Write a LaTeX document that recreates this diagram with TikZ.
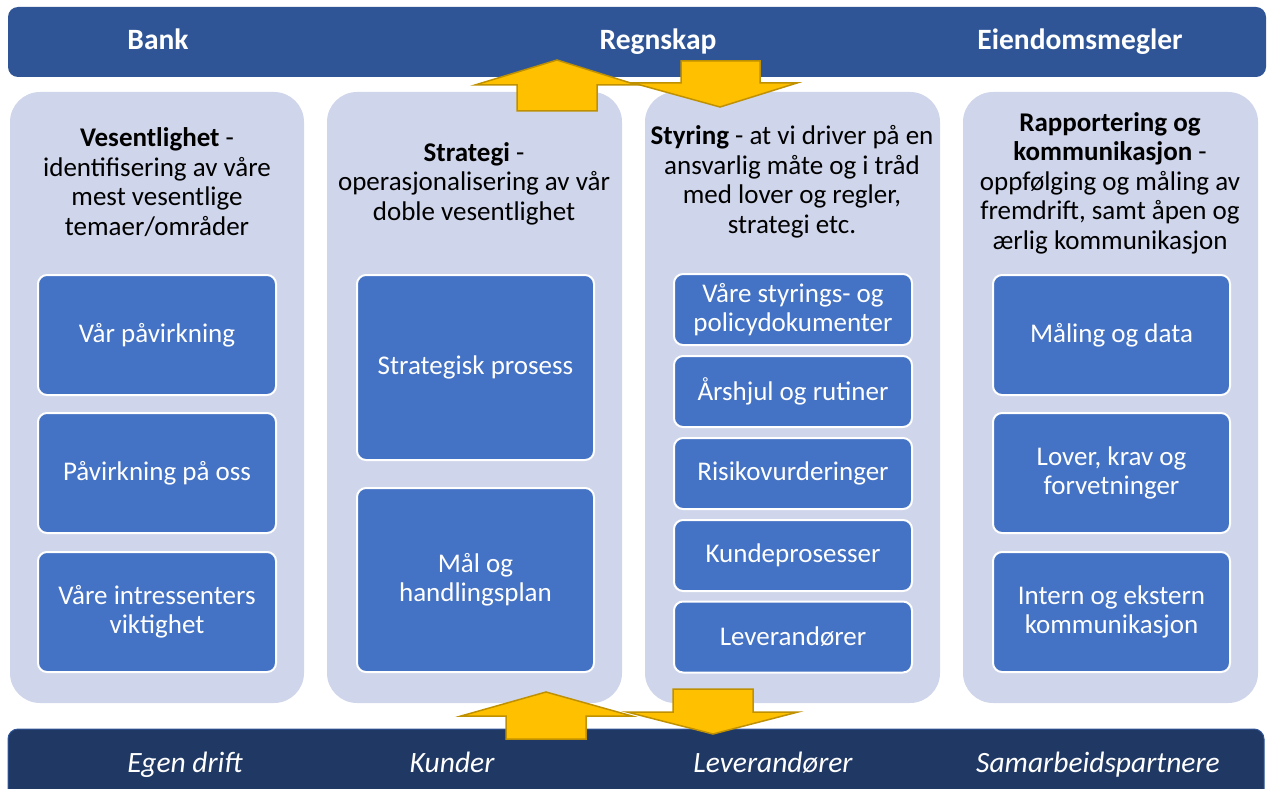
\documentclass[tikz,border=0pt]{standalone}
\usepackage{fontspec}
\setmainfont{Carlito}
\definecolor{topblue}{HTML}{2F5597}
\definecolor{navy}{HTML}{203864}
\definecolor{colfill}{HTML}{CFD5EA}
\definecolor{boxblue}{HTML}{4472C4}
\definecolor{arrfill}{HTML}{FFC000}
\definecolor{arrline}{HTML}{BF9000}
\tikzset{
  colbox/.style={fill=colfill, draw=none, rounded corners=30pt},
  ibox/.style={fill=boxblue, draw=white, line width=2pt, rounded corners=9pt, text=white, align=center,
    font=\fontsize{27}{29.3}\selectfont, inner sep=0pt},
  headtxt/.style={text=black, align=center, font=\fontsize{27}{29.5}\selectfont, inner sep=0pt},
  bartxt/.style={text=white, anchor=base, font=\fontsize{29.5}{32}\selectfont\bfseries, inner sep=0pt},
  bottxt/.style={text=white, anchor=base, font=\fontsize{29.5}{32}\selectfont\itshape, inner sep=0pt},
  yarrow/.style={fill=arrfill, draw=arrline, line width=1.5pt, line join=miter},
}
\begin{document}
\begin{tikzpicture}[x=1pt,y=-1pt]
\useasboundingbox (0,0) rectangle (1268,789);
% top bar
\fill[topblue, rounded corners=10pt] (8,7) rectangle (1266,77);
\node[bartxt] (tb1) at (158,50) {Bank};
\node[bartxt] (tb2) at (658,50) {Regnskap};
\node[bartxt] (tb3) at (1080,50) {Eiendomsmegler};
% bottom bar
\fill[navy, draw=topblue, line width=1pt, rounded corners=10pt] (8,729) rectangle (1264,810);
\node[bottxt] (bb1) at (185,772) {Egen drift};
\node[bottxt] (bb2) at (452,772) {Kunder};
\node[bottxt] (bb3) at (773,772) {Leverandører};
\node[bottxt] (bb4) at (1098,772) {Samarbeidspartnere};
% columns
\fill[colbox] (10,92) rectangle (304,703);
\fill[colbox] (327,92) rectangle (622,703);
\fill[colbox] (645,92) rectangle (940,703);
\fill[colbox] (963,92) rectangle (1258,703);
% column headers
\node[headtxt] (h1) at (157,182) {\textbf{Vesentlighet} -\\identifisering av våre\\mest vesentlige\\temaer/områder};
\node[headtxt] (h2) at (474,183.5) {\textbf{Strategi} -\\operasjonalisering av vår\\doble vesentlighet};
\node[headtxt] (h3) at (792,182) {\textbf{Styring} - at vi driver på en\\ansvarlig måte og i tråd\\med lover og regler,\\strategi etc.};
\node[headtxt] (h4) at (1110,183) {\textbf{Rapportering og}\\\textbf{kommunikasjon} -\\oppfølging og måling av\\fremdrift, samt åpen og\\ærlig kommunikasjon};
% column 1
\node[ibox, minimum width=238pt, minimum height=120pt] (a1) at (157,335) {Vår påvirkning};
\node[ibox, minimum width=238pt, minimum height=120pt] (a2) at (157,473) {Påvirkning på oss};
\node[ibox, minimum width=238pt, minimum height=120pt] (a3) at (157,612) {Våre intressenters\\viktighet};
% column 2
\node[ibox, minimum width=237pt, minimum height=185pt] (s1) at (475.5,367.5) {Strategisk prosess};
\node[ibox, minimum width=237pt, minimum height=184pt] (s2) at (475.5,580) {Mål og\\handlingsplan};
% column 3
\node[ibox, minimum width=238pt, minimum height=71pt] (g1) at (793,309.5) {Våre styrings- og\\policydokumenter};
\node[ibox, minimum width=238pt, minimum height=71pt] (g2) at (793,391.5) {Årshjul og rutiner};
\node[ibox, minimum width=238pt, minimum height=71pt] (g3) at (793,473.5) {Risikovurderinger};
\node[ibox, minimum width=238pt, minimum height=71pt] (g4) at (793,555.5) {Kundeprosesser};
\node[ibox, minimum width=238pt, minimum height=71pt] (g5) at (793,637) {Leverandører};
% column 4
\node[ibox, minimum width=237pt, minimum height=120pt] (r1) at (1111.5,335) {Måling og data};
\node[ibox, minimum width=237pt, minimum height=120pt] (r2) at (1111.5,473) {Lover, krav og\\forvetninger};
\node[ibox, minimum width=237pt, minimum height=120pt] (r3) at (1111.5,612) {Intern og ekstern\\kommunikasjon};
% yellow arrows top
\draw[yarrow] (557,60) -- (637,85) -- (597,85) -- (597,111) -- (517,111) -- (517,85) -- (475,85) -- cycle;
\draw[yarrow] (681,61) -- (760,61) -- (760,83) -- (797,83) -- (720,107) -- (633,83) -- (681,83) -- cycle;
% yellow arrows bottom
\draw[yarrow] (546,692) -- (632,716) -- (586,716) -- (586,739) -- (506,739) -- (506,716) -- (461,716) -- cycle;
\draw[yarrow] (673,689) -- (753,689) -- (753,712) -- (798,712) -- (713,734) -- (627,712) -- (673,712) -- cycle;
\end{tikzpicture}
\end{document}
